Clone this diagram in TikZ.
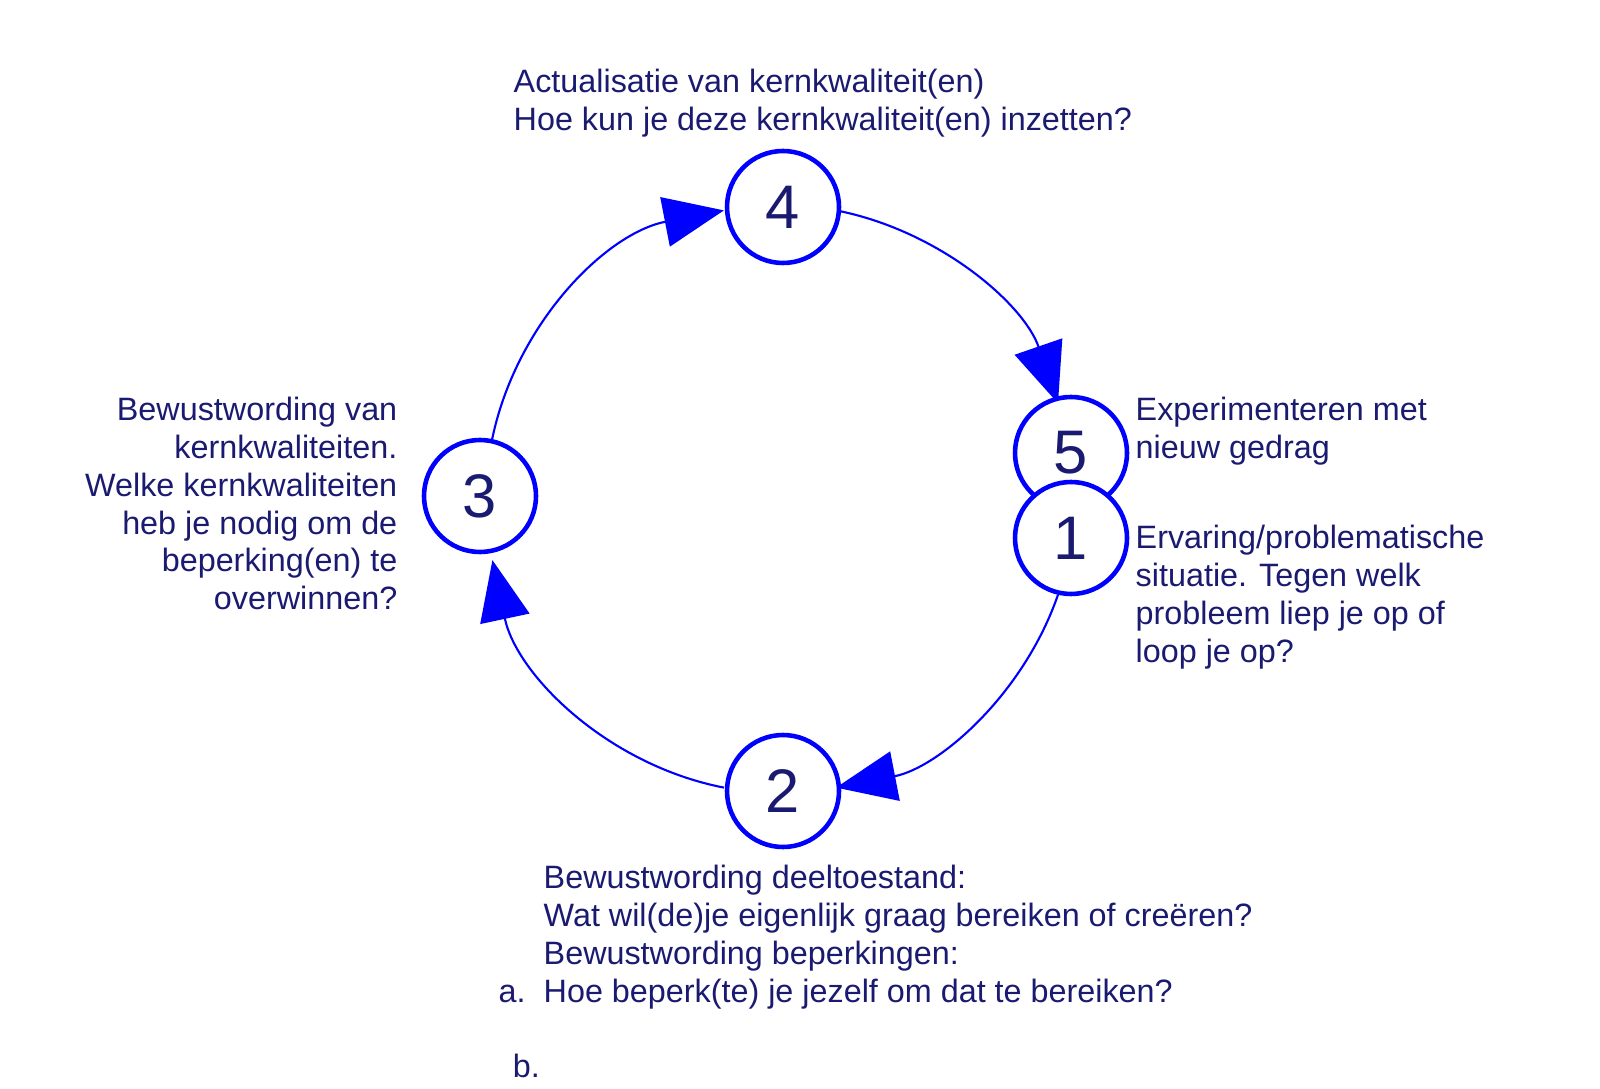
\documentclass[tikz,border=0pt]{standalone}
\usepackage{fontspec}
\setmainfont{Liberation Sans}
\usetikzlibrary{arrows.meta}
\definecolor{txt}{HTML}{1A1A70}
\begin{document}
\begin{tikzpicture}[x=1cm,y=1cm,
  num/.style={circle,draw=blue,line width=1.3pt,fill=white,minimum size=1.12cm,inner sep=0pt,text=txt,font=\fontsize{17.5}{20}\selectfont},
  lab/.style={text=txt,font=\fontsize{9.2}{10.8}\selectfont,inner sep=0pt},
  arr/.style={draw=blue,line width=0.6pt,-{Triangle[length=0.6cm,width=0.5cm,fill=blue]}}]
\coordinate (c) at (7.80,-4.99);
\draw[arr] (c) ++(79:2.94) arc[start angle=79,end angle=19,radius=2.94];
\draw[arr] (c) ++(-19:2.94) arc[start angle=-19,end angle=-79,radius=2.94];
\draw[arr] (c) ++(-101:2.94) arc[start angle=-101,end angle=-168,radius=2.94];
\draw[arr] (c) ++(170:2.94) arc[start angle=170,end angle=101,radius=2.94];
\node[num] (n4) at (7.83,-2.07) {4};
\node[num] (n5) at (10.71,-4.53) {5};
\node[num] (n1) at (10.71,-5.38) {1};
\node[num] (n3) at (4.80,-4.96) {3};
\node[num] (n2) at (7.83,-7.91) {2};
\node[lab,anchor=north west,align=left] (t4) at (5.13,-0.68) {Actualisatie van kernkwaliteit(en)\\Hoe kun je deze kernkwaliteit(en) inzetten?};
\node[lab,anchor=north west,align=left] (t5) at (11.35,-3.96) {Experimenteren met\\nieuw gedrag};
\node[lab,anchor=north west,align=left] (t1) at (11.35,-5.24) {Ervaring/problematische\\situatie. Tegen welk\\probleem liep je op of\\loop je op?};
\node[lab,anchor=north east,align=right] (t3) at (3.98,-3.96) {Bewustwording van\\kernkwaliteiten.\\Welke kernkwaliteiten\\heb je nodig om de\\beperking(en) te\\overwinnen?};
\node[lab,anchor=north west,align=left] (t2b) at (5.43,-8.64) {Bewustwording deeltoestand:\\Wat wil(de)je eigenlijk graag bereiken of creëren?\\Bewustwording beperkingen:\\Hoe beperk(te) je jezelf om dat te bereiken?};
\node[lab,anchor=base west] (ta) at (4.98,-8.64 |- t2b.base) {a.};
\node[lab,anchor=base west] (tb) at ([yshift=-2*10.8pt]ta.base) {b.};
\pgfresetboundingbox
\useasboundingbox (0,0) rectangle (16,-10.89);
\end{tikzpicture}
\end{document}
